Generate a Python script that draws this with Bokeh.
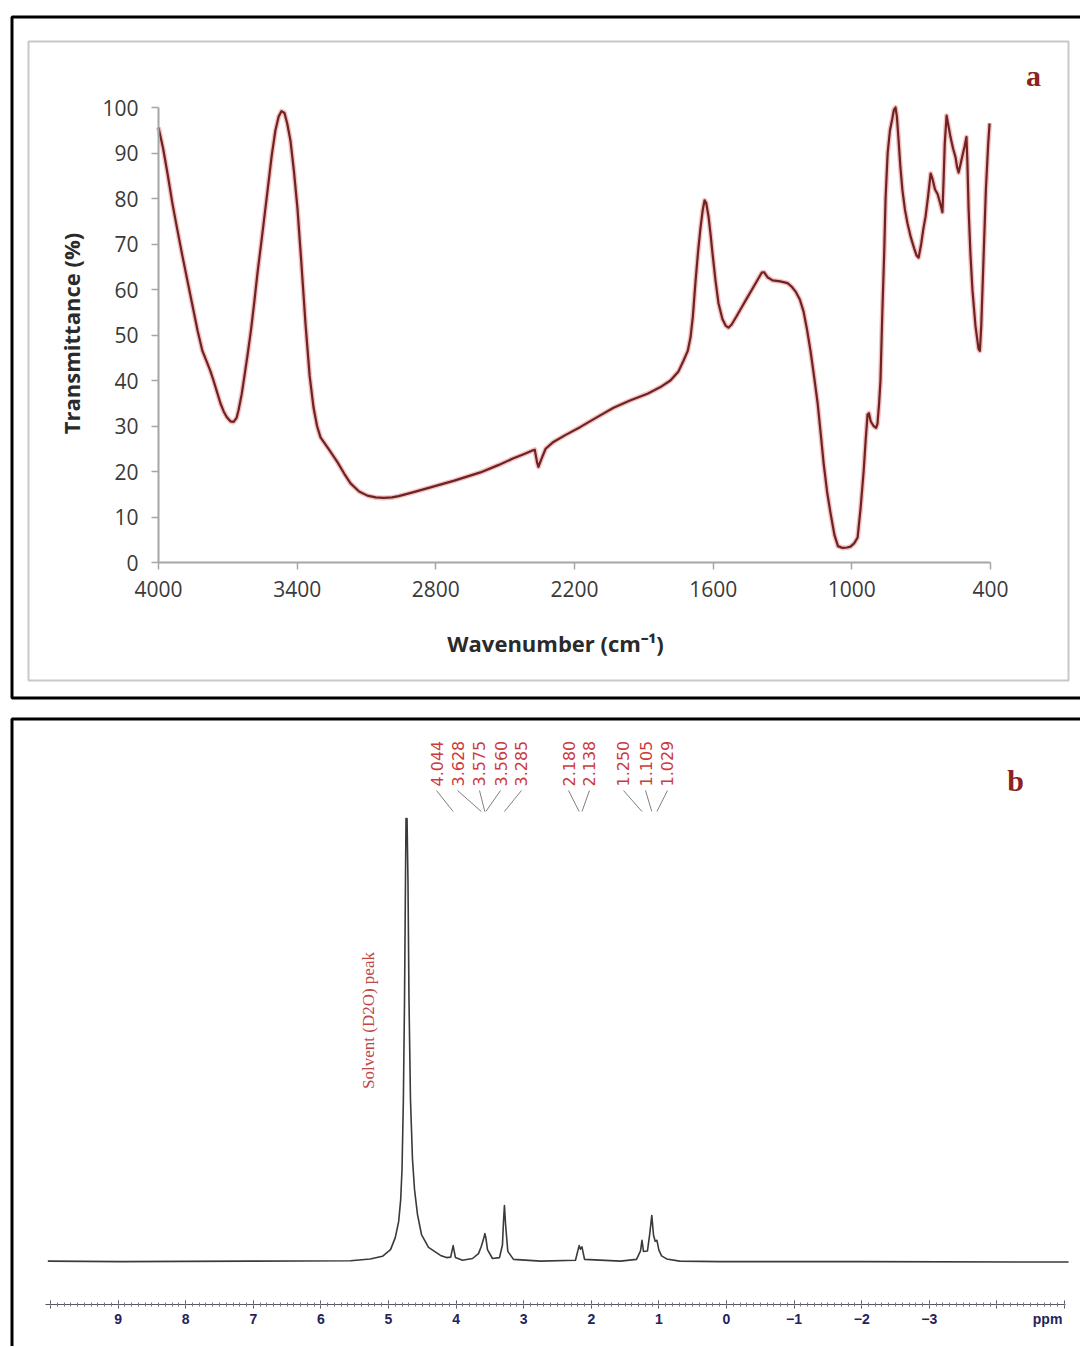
import math
from bokeh.plotting import figure
from bokeh.models import Range1d, LinearAxis, FixedTicker, SingleIntervalTicker
from bokeh.core.properties import value
from bokeh.embed import file_html
from bokeh.resources import INLINE

# ---------------- data: (a) FTIR ----------------
wavenumber = [4000, 3980, 3961, 3940, 3918, 3897, 3875, 3853, 3831, 3810, 3788, 3775,
              3762, 3747, 3732, 3718, 3705, 3688, 3675, 3662, 3654, 3640, 3628, 3615,
              3600, 3586, 3572, 3550, 3528, 3510, 3494, 3480, 3468, 3455, 3443, 3429,
              3414, 3399, 3382, 3364, 3346, 3329, 3314, 3299, 3262, 3225, 3196, 3169,
              3132, 3096, 3060, 3026, 2990, 2961, 2900, 2823, 2720, 2607, 2530, 2464,
              2420, 2382, 2372, 2362, 2356, 2345, 2325, 2291, 2240, 2174, 2100, 2031,
              1960, 1884, 1830, 1785, 1750, 1728, 1710, 1698, 1688, 1676, 1665, 1655,
              1645, 1637, 1630, 1620, 1611, 1603, 1590, 1577, 1560, 1545, 1534, 1520,
              1500, 1482, 1455, 1425, 1400, 1390, 1380, 1365, 1343, 1310, 1278, 1260,
              1244, 1225, 1209, 1195, 1179, 1165, 1148, 1135, 1122, 1107, 1092, 1075,
              1060, 1040, 1020, 1006, 990, 975, 962, 949, 940, 932, 926, 918, 906, 895,
              889, 882, 876, 868, 860, 854, 845, 835, 825, 818, 811, 805, 798, 790, 781,
              770, 759, 745, 730, 720, 711, 700, 690, 681, 670, 659, 652, 640, 629, 618,
              608, 603, 598, 590, 582, 573, 562, 551, 545, 538, 530, 521, 512, 504, 500,
              495, 487, 478, 465, 452, 446, 440, 430, 420, 410, 404]
transmittance = [95.6, 91.0, 85.5, 79.0, 73.0, 67.5, 62.0, 56.5, 51.0, 46.5, 43.7, 42.0,
                 40.0, 37.5, 35.0, 33.2, 32.0, 31.0, 30.9, 31.8, 33.4, 37.0, 41.0, 45.5,
                 51.0, 57.0, 63.5, 72.5, 81.8, 89.5, 95.0, 98.0, 99.2, 98.8, 96.5, 92.7,
                 86.0, 78.0, 66.0, 52.5, 41.0, 34.0, 30.0, 27.5, 24.8, 22.0, 19.5, 17.4,
                 15.6, 14.7, 14.3, 14.2, 14.3, 14.6, 15.4, 16.5, 18.0, 19.8, 21.4, 22.9,
                 23.8, 24.6, 24.8, 22.0, 21.0, 22.5, 25.0, 26.5, 28.0, 29.8, 32.0, 34.0,
                 35.6, 37.1, 38.5, 40.0, 42.0, 44.4, 46.5, 49.5, 54.0, 62.0, 68.5, 73.5,
                 77.5, 79.6, 79.0, 76.0, 72.0, 68.0, 62.0, 57.0, 53.5, 52.0, 51.6, 52.3,
                 54.0, 55.6, 58.0, 60.6, 62.8, 63.7, 63.8, 62.7, 62.0, 61.8, 61.4, 60.6,
                 59.6, 57.8, 55.2, 51.5, 46.6, 41.5, 35.0, 28.5, 21.8, 15.5, 10.8, 6.0,
                 3.6, 3.2, 3.3, 3.5, 4.2, 5.5, 12.0, 20.0, 27.0, 32.5, 32.8, 31.0, 30.0, 29.6,
                 30.5, 35.0, 40.0, 55.0, 68.0, 80.0, 90.0, 95.0, 97.5, 99.5, 100.0, 98.0, 93.0, 87.0, 81.8,
                 77.5, 74.5, 71.5, 69.0, 67.5, 67.0, 70.0, 73.5, 76.0, 80.5, 85.5, 84.5, 82.0, 81.0, 79.0,
                 77.0, 84.0, 92.0, 98.2, 96.0, 93.5, 91.0, 89.0, 87.0, 85.7, 87.5, 89.5, 91.5, 93.5, 88.0,
                 78.0, 68.0, 59.8, 52.0, 47.0, 46.5, 52.0, 67.0, 82.0, 92.0, 96.5]
ftir_xticks = [4000, 3400, 2800, 2200, 1600, 1000, 400]
ftir_yticks = [0, 10, 20, 30, 40, 50, 60, 70, 80, 90, 100]

# ---------------- data: (b) 1H NMR ----------------
nmr_ppm = [10.04, 8.96, 7.04, 5.56, 5.27, 5.09, 4.97, 4.90, 4.85, 4.82, 4.80, 4.78,
           4.763, 4.749, 4.741, 4.726, 4.712, 4.697, 4.675, 4.645, 4.615, 4.571, 4.512,
           4.408, 4.231, 4.142, 4.080, 4.044, 4.010, 3.905, 3.757, 3.669, 3.628, 3.590,
           3.575, 3.560, 3.536, 3.462, 3.358, 3.314, 3.300, 3.285, 3.268, 3.235, 3.151,
           2.751, 2.234, 2.180, 2.160, 2.138, 2.100, 1.568, 1.331, 1.272, 1.250, 1.228,
           1.169, 1.135, 1.105, 1.080, 1.055, 1.029, 1.000, 0.960, 0.885, 0.693, 0.100,
           -2.00, -5.06]
nmr_intensity = [0.3, 0.2, 0.3, 0.4, 0.8, 1.4, 2.9, 5.6, 9.2, 14.1, 21.0, 36.7,
                 59.2, 86.0, 100.0, 100.0, 86.0, 59.2, 36.7, 23.2, 16.4, 10.8, 6.3,
                 3.4, 1.6, 1.1, 1.2, 3.8, 1.1, 0.5, 0.9, 2.0, 3.6, 5.5,
                 6.5, 5.6, 2.9, 0.9, 1.1, 4.0, 9.0, 12.8, 8.5, 2.5, 0.7,
                 0.3, 0.5, 3.8, 3.0, 3.5, 0.7, 0.3, 0.7, 2.6, 5.0, 2.5,
                 2.6, 6.5, 10.6, 6.2, 4.8, 5.0, 2.8, 1.5, 0.8, 0.3, 0.2,
                 0.2, 0.1]
peak_values = [4.044, 3.628, 3.575, 3.560, 3.285, 2.180, 2.138, 1.250, 1.105, 1.029]
peak_labels = ["4.044", "3.628", "3.575", "3.560", "3.285", "2.180", "2.138", "1.250", "1.105", "1.029"]
nmr_label_overrides = {10: "", -4: "", -5: ""}

# ---------------- layout (pixel geometry of the page) ----------------
W, H = 1080, 1346
label_ppm = [4.290, 3.979, 3.654, 3.343, 3.033, 2.337, 2.027, 1.524, 1.198, 0.873]

p = figure(width=W, height=H, x_range=Range1d(0, W), y_range=Range1d(H, 0),
           output_backend="svg", toolbar_location=None,
           x_axis_location=None, y_axis_location=None, min_border=0)
p.outline_line_color = None
p.background_fill_color = "white"
p.border_fill_color = "white"
for g in p.grid:
    g.visible = False

p.extra_x_ranges = {"wn": Range1d(4683.65, 10.58), "ppm": Range1d(10.740, -5.237)}
p.extra_y_ranges = {"T": Range1d(-172.31, 123.52), "I": Range1d(-18.92, 284.23)}

# panel frames
p.quad(left=[11.5], right=[1100], top=[16.5], bottom=[697.5], fill_color=None,
       line_color="black", line_width=3)
p.quad(left=[28], right=[1068], top=[41], bottom=[680], fill_color=None,
       line_color="#c8c8c8", line_width=2)
p.quad(left=[11.5], right=[1100], top=[718.5], bottom=[1380], fill_color=None,
       line_color="black", line_width=3)

# ---------------- (a) FTIR ----------------
yax = LinearAxis(x_range_name="wn", y_range_name="T", fixed_location=4000, bounds=(0, 100),
                 ticker=FixedTicker(ticks=ftir_yticks, minor_ticks=[]))
xax = LinearAxis(x_range_name="wn", y_range_name="T", fixed_location=0, bounds=(400, 4000),
                 ticker=FixedTicker(ticks=ftir_xticks, minor_ticks=[]))
for ax in (yax, xax):
    ax.axis_line_color = "#a6a6a6"
    ax.axis_line_width = 2
    ax.major_tick_line_color = "#a6a6a6"
    ax.major_tick_line_width = 1.5
    ax.major_tick_in = 0
    ax.major_tick_out = 7
    ax.minor_tick_line_color = None
    ax.major_label_text_font = "Open Sans"
    ax.major_label_text_font_size = "21px"
    ax.major_label_text_color = "#3a3a3a"
yax.major_label_standoff = 13
xax.major_label_standoff = 11
p.add_layout(yax, "left")
p.add_layout(xax, "below")

p.line(wavenumber, transmittance, x_range_name="wn", y_range_name="T",
       line_color="#e05050", line_alpha=0.35, line_width=5, line_join="round")
p.line(wavenumber, transmittance, x_range_name="wn", y_range_name="T",
       line_color="#6e2323", line_width=2.2, line_join="round")

p.text(x=[70], y=[333], text=["Transmittance (%)"], angle=math.pi / 2,
       text_align="center", text_baseline="middle", text_font=value("Open Sans"),
       text_font_style="bold", text_font_size="22px", text_color="#2a2a2a")
p.text(x=[555], y=[642], text=["Wavenumber (cm\u207b\u00b9)"],
       text_align="center", text_baseline="middle", text_font=value("Open Sans"),
       text_font_style="bold", text_font_size="22px", text_color="#2a2a2a")
p.text(x=[1033], y=[75], text=["a"], text_align="center", text_baseline="middle",
       text_font=value("Liberation Serif"), text_font_style="bold",
       text_font_size="30px", text_color="#8b2323")

# ---------------- (b) NMR ----------------
nax = LinearAxis(x_range_name="ppm", fixed_location=1304, bounds=(-5.01, 10.07),
                 ticker=SingleIntervalTicker(interval=1, num_minor_ticks=10))
nax.axis_line_color = "#555566"
nax.axis_line_width = 1.2
nax.major_tick_line_color = "#555566"
nax.minor_tick_line_color = "#777788"
nax.major_tick_in = 4
nax.major_tick_out = 4
nax.minor_tick_in = 2
nax.minor_tick_out = 2
nax.major_label_overrides = nmr_label_overrides
nax.major_label_text_font = "Liberation Sans"
nax.major_label_text_font_style = "bold"
nax.major_label_text_font_size = "14px"
nax.major_label_text_color = "#23235a"
nax.major_label_standoff = 5
p.add_layout(nax, "below")

p.line(nmr_ppm, nmr_intensity, x_range_name="ppm", y_range_name="I",
       line_color="#3a3a3a", line_width=1.6, line_join="round")

p.text(x=[-4.75], y=[1318], text=["ppm"], x_range_name="ppm", text_align="center",
       text_baseline="middle", text_font=value("Liberation Sans"), text_font_style="bold",
       text_font_size="14px", text_color="#23235a")

p.segment(x0=label_ppm, y0=[790] * len(label_ppm), x1=peak_values, y1=[811] * len(peak_values),
          x_range_name="ppm", line_color="#808080", line_width=1)
p.text(x=label_ppm, y=[786] * len(label_ppm), text=peak_labels, x_range_name="ppm",
       angle=math.pi / 2, text_align="left", text_baseline="middle",
       text_font=value("DejaVu Sans"), text_font_size="16px", text_color="#cc3b3b")

p.text(x=[5.296], y=[1020], text=["Solvent (D2O) peak"], x_range_name="ppm",
       angle=math.pi / 2, text_align="center", text_baseline="middle",
       text_font=value("Liberation Serif"), text_font_size="17px", text_color="#c04545")
p.text(x=[1015], y=[780], text=["b"], text_align="center", text_baseline="middle",
       text_font=value("Liberation Serif"), text_font_style="bold",
       text_font_size="30px", text_color="#8b2323")

open("out.html", "w").write(file_html(p, INLINE))
